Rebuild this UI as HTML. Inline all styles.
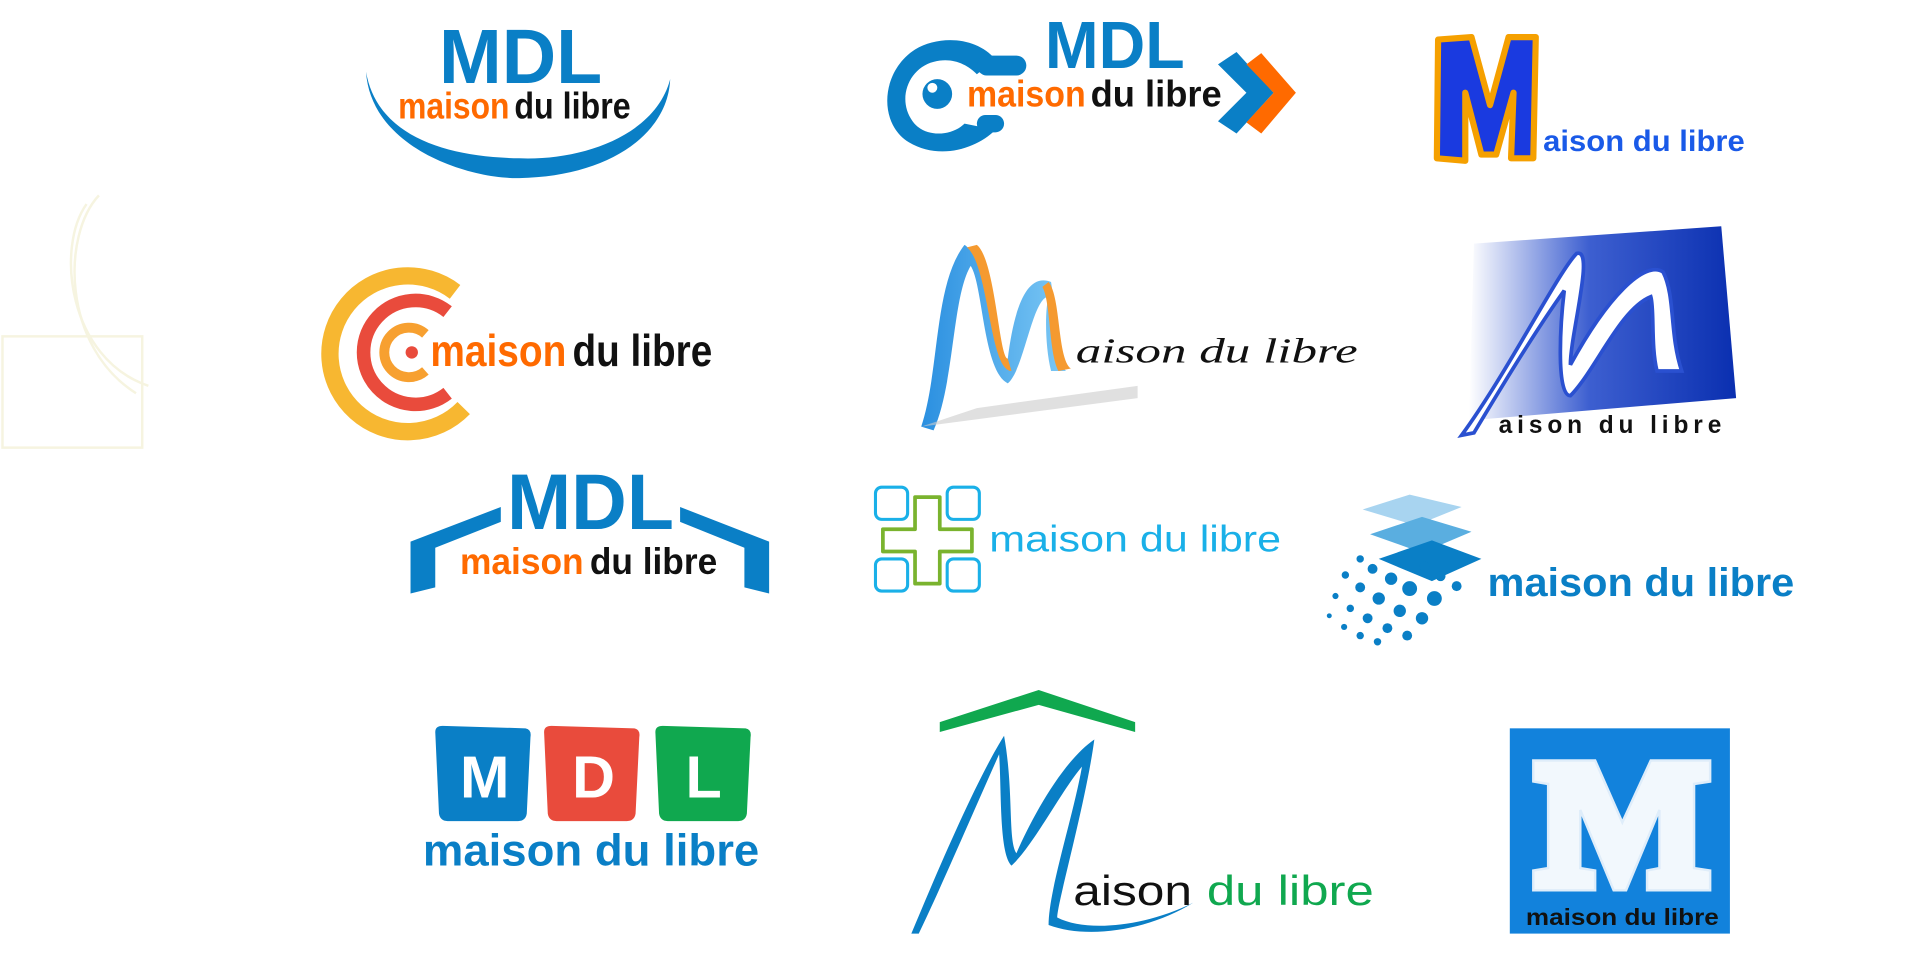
<!DOCTYPE html>
<html><head><meta charset="utf-8"><style>
html,body{margin:0;padding:0;background:#fff;width:1929px;height:967px;overflow:hidden}
svg{display:block}
text{font-family:"Liberation Sans Narrow","Liberation Sans",sans-serif;font-weight:bold}
</style></head><body>
<svg width="1929" height="967" viewBox="0 0 1560 782" xmlns="http://www.w3.org/2000/svg">
<defs>
<linearGradient id="g6" x1="0" x2="1" y1="0" y2="0"><stop offset="0" stop-color="#fff"/><stop offset="0.45" stop-color="#3d5fd0"/><stop offset="1" stop-color="#0a2fb0"/></linearGradient>
<linearGradient id="rb" x1="0" x2="1"><stop offset="0" stop-color="#2a8fe0"/><stop offset="1" stop-color="#7cc8f5"/></linearGradient>
</defs>
<!-- faint left shape -->
<g fill="none" stroke="#f6f4e0" stroke-width="2">
<rect x="2" y="272" width="113" height="90"/>
<path d="M80 158 C50 190,50 280,110 318"/><path d="M70 165 C45 200,55 290,120 312"/>
</g>

<!-- Logo 1 -->
<text x="355" y="67" font-size="62" fill="#0a7fc6" textLength="132" lengthAdjust="spacingAndGlyphs">MDL</text>
<text x="322" y="96" font-size="30" fill="#ff6a00" textLength="90" lengthAdjust="spacingAndGlyphs">maison</text>
<text x="416" y="96" font-size="30" fill="#111" textLength="94" lengthAdjust="spacingAndGlyphs">du libre</text>
<path d="M296 58 C300 120,380 145,420 144 C490 143,540 110,542 64 C530 110,470 130,420 128 C360 127,305 110,296 58Z" fill="#0a7fc6"/>

<!-- Logo 2 -->
<path d="M805 48 C790 30,760 28,740 40 C712 58,710 100,735 115 C760 130,790 120,805 105 L780 100 C770 110,748 112,738 98 C725 80,735 55,755 50 C770 46,782 52,790 60Z" fill="#0a7fc6"/>
<rect x="790" y="45" width="40" height="16" rx="8" fill="#0a7fc6"/>
<rect x="790" y="93" width="22" height="14" rx="7" fill="#0a7fc6"/>
<circle cx="758" cy="76" r="12" fill="#0a7fc6"/><circle cx="754" cy="71" r="4" fill="#fff"/>
<text x="845" y="55" font-size="54" fill="#0a7fc6" textLength="113" lengthAdjust="spacingAndGlyphs">MDL</text>
<text x="782" y="86" font-size="30" fill="#ff6a00" textLength="96" lengthAdjust="spacingAndGlyphs">maison</text>
<text x="882" y="86" font-size="30" fill="#111" textLength="106" lengthAdjust="spacingAndGlyphs">du libre</text>
<path d="M985 52 L1000 42 L1030 75 L1000 108 L985 98 L1008 75Z" fill="#0a7fc6"/>
<path d="M1008 52 L1020 43 L1048 75 L1020 108 L1008 99 L1030 75Z" fill="#ff6a00"/>

<!-- Logo 3 -->
<path d="M1163 32 L1190 30 L1205 85 L1220 30 L1242 30 L1240 128 L1222 128 L1224 75 L1210 125 L1198 125 L1185 75 L1185 130 L1162 128Z" fill="#1a3ae0" stroke="#f5a000" stroke-width="5" stroke-linejoin="round"/>
<text x="1248" y="122" font-size="24" fill="#1a5ae8" font-family="Liberation Sans" style="font-family:'Liberation Sans',sans-serif" textLength="163" lengthAdjust="spacingAndGlyphs">aison du libre</text>

<!-- Logo 4 -->
<path d="M368 236 A63 63 0 1 0 375 330" fill="none" stroke="#f7b731" stroke-width="14"/>
<path d="M362 252 A42 42 0 1 0 362 318" fill="none" stroke="#e94b3c" stroke-width="11"/>
<path d="M344 270 A20 20 0 1 0 344 300" fill="none" stroke="#f7a030" stroke-width="8"/>
<circle cx="333" cy="285" r="5" fill="#e94b3c"/>
<text x="348" y="296" font-size="36" fill="#ff6a00" textLength="110" lengthAdjust="spacingAndGlyphs">maison</text>
<text x="463" y="296" font-size="36" fill="#111" textLength="113" lengthAdjust="spacingAndGlyphs">du libre</text>

<!-- Logo 5 -->
<path d="M745 345 C760 300,755 230,780 198 C800 210,805 300,815 290 C820 250,830 220,850 228 C855 260,855 290,862 300 L850 300 C845 280,845 250,848 240 C835 240,828 300,815 310 C795 300,795 230,785 215 C770 240,772 310,755 348Z" fill="url(#rb)"/>
<path d="M790 198 C805 210,808 290,815 290 L818 300 C800 300,800 215,782 200Z" fill="#f59a30"/>
<path d="M848 228 C858 240,855 290,866 298 L856 300 C848 285,850 245,843 232Z" fill="#f59a30"/>
<path d="M745 345 L920 322 L920 312 L790 330Z" fill="#ccc" opacity="0.6"/>
<text x="870" y="293" font-size="28" fill="#111" font-style="italic" style="font-family:'Liberation Serif',serif;font-weight:normal" textLength="228" lengthAdjust="spacingAndGlyphs">aison du libre</text>

<!-- Logo 6 -->
<path d="M1192 197 L1392 183 L1404 322 L1188 340Z" fill="url(#g6)"/>
<path d="M1182 352 C1220 300,1260 220,1275 205 C1290 200,1270 270,1270 295 C1300 240,1330 210,1345 220 C1355 240,1350 270,1360 300 L1340 300 C1335 280,1338 250,1335 240 C1310 250,1290 300,1270 320 C1258 320,1262 260,1265 235 C1240 270,1210 320,1192 350Z" fill="#fff" stroke="#2a50d0" stroke-width="3"/>
<text x="1212" y="350" font-size="20" fill="#111" style="font-family:'Liberation Sans',sans-serif" letter-spacing="4" textLength="184" lengthAdjust="spacingAndGlyphs">aison du libre</text>

<!-- Logo 7 -->
<text x="410" y="428" font-size="64" fill="#0a7fc6" textLength="135" lengthAdjust="spacingAndGlyphs">MDL</text>
<text x="372" y="464" font-size="30" fill="#ff6a00" textLength="100" lengthAdjust="spacingAndGlyphs">maison</text>
<text x="477" y="464" font-size="30" fill="#111" textLength="103" lengthAdjust="spacingAndGlyphs">du libre</text>
<path d="M332 438 L405 410 L405 422 L352 443 L352 475 L332 480Z" fill="#0a7fc6"/>
<path d="M622 438 L550 410 L550 422 L602 443 L602 475 L622 480Z" fill="#0a7fc6"/>

<!-- Logo 8 -->
<g fill="none" stroke="#1ab0e8" stroke-width="2.5">
<rect x="708" y="394" width="26" height="26" rx="5"/><rect x="766" y="394" width="26" height="26" rx="5"/>
<rect x="708" y="452" width="26" height="26" rx="5"/><rect x="766" y="452" width="26" height="26" rx="5"/>
</g>
<path d="M740 402 L760 402 L760 428 L786 428 L786 446 L760 446 L760 472 L740 472 L740 446 L714 446 L714 428 L740 428Z" fill="none" stroke="#7ab32e" stroke-width="3" stroke-linejoin="round"/>
<text x="800" y="446" font-size="30" fill="#1ab0e8" style="font-family:'Liberation Sans',sans-serif;font-weight:normal" textLength="236" lengthAdjust="spacingAndGlyphs">maison du libre</text>

<!-- Logo 9 -->
<path d="M1102 412 L1140 400 L1182 410 L1145 425Z" fill="#a8d4f0"/>
<path d="M1108 432 L1150 418 L1190 430 L1150 447Z" fill="#5aaee0"/>
<path d="M1115 452 L1158 437 L1198 452 L1158 470Z" fill="#0a7fc6"/>
<g fill="#0a7fc6">
<circle cx="1100" cy="452" r="3"/><circle cx="1110" cy="460" r="4"/><circle cx="1125" cy="468" r="5"/><circle cx="1140" cy="476" r="6"/><circle cx="1160" cy="484" r="6"/>
<circle cx="1088" cy="465" r="3"/><circle cx="1100" cy="475" r="4"/><circle cx="1115" cy="484" r="5"/><circle cx="1132" cy="494" r="5"/><circle cx="1150" cy="500" r="5"/>
<circle cx="1080" cy="482" r="2.5"/><circle cx="1092" cy="492" r="3"/><circle cx="1106" cy="500" r="4"/><circle cx="1122" cy="508" r="4"/><circle cx="1138" cy="514" r="4"/>
<circle cx="1075" cy="498" r="2"/><circle cx="1087" cy="507" r="2.5"/><circle cx="1100" cy="514" r="3"/><circle cx="1114" cy="519" r="3"/>
<circle cx="1165" cy="466" r="4"/><circle cx="1178" cy="474" r="4"/><circle cx="1152" cy="458" r="4"/>
</g>
<text x="1203" y="482" font-size="32" fill="#0a7fc6" style="font-family:'Liberation Sans',sans-serif;font-weight:bold" textLength="248" lengthAdjust="spacingAndGlyphs">maison du libre</text>

<!-- Logo 10 -->
<path d="M352 592 Q352 587 358 587 L425 589 Q430 590 429 596 L426 658 Q425 664 419 664 L362 664 Q356 664 355 658Z" fill="#0a7fc6"/>
<path d="M440 592 Q440 587 446 587 L513 589 Q518 590 517 596 L514 658 Q513 664 507 664 L450 664 Q444 664 443 658Z" fill="#e94b3c"/>
<path d="M530 592 Q530 587 536 587 L603 589 Q608 590 607 596 L604 658 Q603 664 597 664 L540 664 Q534 664 533 658Z" fill="#10a84f"/>
<g font-size="48" fill="#fff" style="font-family:'Liberation Sans',sans-serif;font-weight:normal" text-anchor="middle">
<text x="392" y="645">M</text><text x="480" y="645">D</text><text x="569" y="645">L</text></g>
<text x="342" y="700" font-size="36" fill="#0a7fc6" textLength="272" lengthAdjust="spacingAndGlyphs">maison du libre</text>

<!-- Logo 11 -->
<path d="M760 584 L840 558 L918 584 L918 592 L840 570 L760 592Z" fill="#10a84f"/>
<path d="M737 755 C760 700,790 630,812 595 C820 640,815 680,822 690 C835 660,860 615,885 598 C878 650,855 730,855 742 C880 755,930 748,965 730 C930 752,880 760,848 748 C848 720,868 660,875 620 C858 640,835 685,818 700 C808 690,810 640,808 610 C790 650,760 720,743 755Z" fill="#0a7fc6"/>
<text x="868" y="732" font-size="34" fill="#111" style="font-family:'Liberation Sans',sans-serif;font-weight:normal" textLength="96" lengthAdjust="spacingAndGlyphs">aison</text>
<text x="976" y="732" font-size="34" fill="#10a84f" style="font-family:'Liberation Sans',sans-serif;font-weight:normal" textLength="135" lengthAdjust="spacingAndGlyphs">du libre</text>

<!-- Logo 12 -->
<rect x="1221" y="589" width="178" height="166" fill="#1282dc"/>
<path d="M1240 615 L1290 615 L1312 665 L1335 615 L1383 615 L1383 632 L1370 634 L1370 702 L1383 704 L1383 720 L1332 720 L1332 704 L1342 702 L1342 655 L1315 720 L1305 720 L1278 655 L1278 702 L1290 704 L1290 720 L1240 720 L1240 704 L1252 702 L1252 634 L1240 632Z" fill="#fff" stroke="#eaf3fc" stroke-width="2" opacity="0.95"/>
<text x="1234" y="748" font-size="19" fill="#111" style="font-family:'Liberation Sans',sans-serif;font-weight:bold" textLength="156" lengthAdjust="spacingAndGlyphs">maison du libre</text>
</svg>
</body></html>
